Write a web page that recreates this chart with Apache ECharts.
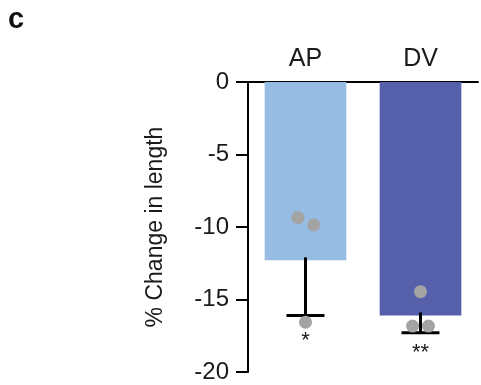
<!DOCTYPE html>
<html>
<head>
<meta charset="utf-8">
<style>
  html, body { margin: 0; padding: 0; background: #fff; }
  #chart { width: 481px; height: 385px; }
</style>
<script src="https://cdn.jsdelivr.net/npm/echarts@6/dist/echarts.min.js"></script>
</head>
<body>
<div id="chart"></div>
<script>
// Groups and their summary values (% change in length)
const categories = ['AP', 'DV'];
const means = [-12.3, -16.1];
const sds = [3.8, 1.2];
const significance = ['*', '**'];
const barColors = ['#97bce3', '#5660aa'];

// Individual measurements per group, with horizontal jitter (in category units)
const pointsAP = [-9.35, -9.86, -16.57];
const jitterAP = [-0.066, 0.072, 0];
const pointsDV = [-14.46, -16.83, -16.83];
const jitterDV = [0, -0.069, 0.069];

const yTicks = { min: -20, max: 0, interval: 5 };

const textColor = '#1a1a1a';
const fontFamily = 'Liberation Sans, Arial, sans-serif';

const scatterData = [];
pointsAP.forEach((v, i) => scatterData.push([0 + jitterAP[i], v]));
pointsDV.forEach((v, i) => scatterData.push([1 + jitterDV[i], v]));

const chart = echarts.init(document.getElementById('chart'));
chart.setOption({
  animation: false,
  textStyle: { fontFamily },
  graphic: [{
    type: 'text', left: 8, top: 5,
    style: { text: 'c', font: 'bold 29px ' + fontFamily, fill: '#111' }
  }],
  grid: { left: 248, right: 3, top: 82, bottom: 13 },
  xAxis: [{
    type: 'category',
    data: categories,
    position: 'top',
    axisLine: { onZero: false, lineStyle: { color: '#000', width: 2 } },
    axisTick: { alignWithLabel: true, length: 9, lineStyle: { color: '#000', width: 2 } },
    axisLabel: { fontSize: 25, color: textColor, margin: 10 }
  }, {
    type: 'value', min: -0.5, max: 1.5, show: false
  }],
  yAxis: {
    type: 'value',
    min: yTicks.min, max: yTicks.max, interval: yTicks.interval,
    name: '% Change in length',
    nameLocation: 'middle',
    nameRotate: 90,
    nameGap: 81,
    nameTextStyle: { fontSize: 23, color: textColor },
    axisLine: { show: true, onZero: false, lineStyle: { color: '#000', width: 2 } },
    axisTick: { show: true, length: 12, lineStyle: { color: '#000', width: 2 } },
    axisLabel: { fontSize: 24, color: textColor, margin: 19 },
    splitLine: { show: false }
  },
  series: [{
    type: 'bar',
    barWidth: '71%',
    data: means.map((m, i) => ({ value: m, itemStyle: { color: barColors[i] } })),
    z: 1
  }, {
    type: 'custom',
    z: 3,
    data: means.map((m, i) => [i, m, sds[i]]),
    renderItem: function (params, api) {
      const c = api.value(0);
      const top = api.coord([c, api.value(1)]);
      const bot = api.coord([c, api.value(1) - api.value(2)]);
      const half = 19;
      const style = { stroke: '#000', lineWidth: 3 };
      return {
        type: 'group',
        children: [
          { type: 'line', shape: { x1: top[0], y1: top[1] - 3, x2: bot[0], y2: bot[1] }, style },
          { type: 'line', shape: { x1: bot[0] - half, y1: bot[1], x2: bot[0] + half, y2: bot[1] }, style },
          { type: 'text', x: bot[0], y: bot[1] + (c === 0 ? 14 : 9),
            style: { text: significance[c], font: '22px ' + fontFamily, fill: textColor, align: 'center', verticalAlign: 'top' } }
        ]
      };
    }
  }, {
    type: 'scatter',
    xAxisIndex: 1,
    symbolSize: 13,
    itemStyle: { color: '#a3a3a3', opacity: 1 },
    data: scatterData,
    z: 4
  }]
});
</script>
</body>
</html>
